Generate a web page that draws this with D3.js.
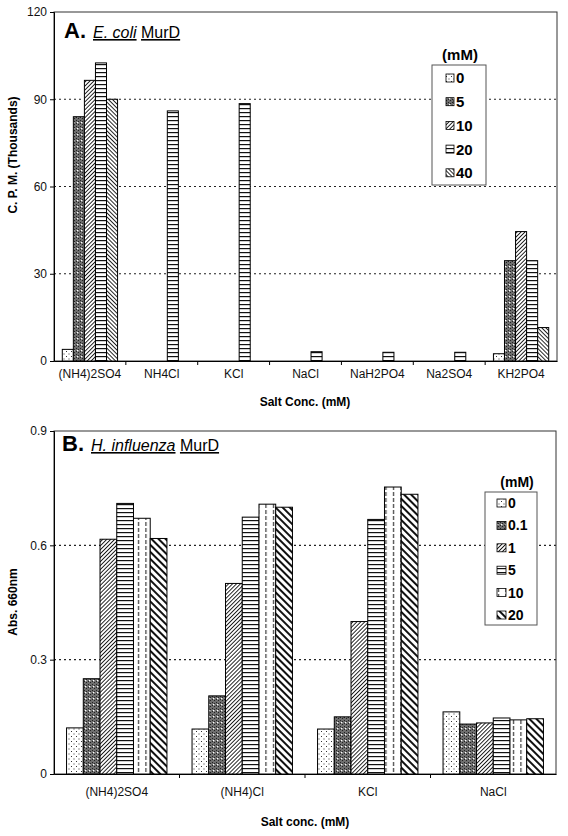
<!DOCTYPE html>
<html><head><meta charset="utf-8">
<script src="https://cdn.jsdelivr.net/npm/d3@7"></script>
<style>
html,body{margin:0;padding:0;background:#fff;}
svg{display:block;font-family:Arial,"Liberation Sans",sans-serif;}
</style></head>
<body><svg id="c" width="568" height="836"></svg>
<script>
// ---- Data ----
const catsA = ["(NH4)2SO4","NH4Cl","KCl","NaCl","NaH2PO4","Na2SO4","KH2PO4"];
const seriesA = ["0","5","10","20","40"];
const valsA_0  = [4, null, null, null, null, null, 2.5];
const valsA_5  = [84, null, null, null, null, null, 34.5];
const valsA_10 = [96.5, null, null, null, null, null, 44.5];
const valsA_20 = [102.5, 86, 88.5, 3.2, 3, 3, 34.5];
const valsA_40 = [90, null, null, null, null, null, 11.5];
const ticksA = [0, 30, 60, 90, 120];

const catsB = ["(NH4)2SO4","(NH4)Cl","KCl","NaCl"];
const seriesB = ["0","0.1","1","5","10","20"];
const valsB_0   = [0.121, 0.118, 0.118, 0.163];
const valsB_01  = [0.25, 0.205, 0.15, 0.131];
const valsB_1   = [0.616, 0.5, 0.4, 0.134];
const valsB_5   = [0.71, 0.674, 0.668, 0.147];
const valsB_10  = [0.671, 0.708, 0.753, 0.142];
const valsB_20  = [0.618, 0.70, 0.734, 0.145];
const ticksB = [0, 0.3, 0.6, 0.9];

const svg = d3.select("#c");
const defs = svg.append("defs");

// ---- Patterns ----
function pat(id, w, h, transform, draw) {
  const p = defs.append("pattern").attr("id", id).attr("patternUnits", "userSpaceOnUse")
    .attr("width", w).attr("height", h);
  if (transform) p.attr("patternTransform", transform);
  p.append("rect").attr("width", w).attr("height", h).attr("fill", "#fff");
  draw(p);
}
pat("pDots", 5, 5, null, p => {
  p.append("rect").attr("x", 1).attr("y", 1).attr("width", 1).attr("height", 1).attr("fill", "#333");
  p.append("rect").attr("x", 3.5).attr("y", 3.5).attr("width", 1).attr("height", 1).attr("fill", "#333");
});
pat("pDark", 4, 6, null, p => {
  p.select("rect").attr("fill", "#6e6e6e");
  p.append("rect").attr("x", 0).attr("y", 0).attr("width", 1).attr("height", 1).attr("fill", "#222");
  p.append("rect").attr("x", 2).attr("y", 1).attr("width", 1).attr("height", 1).attr("fill", "#222");
  p.append("rect").attr("x", 0).attr("y", 3).attr("width", 1).attr("height", 1).attr("fill", "#222");
  p.append("rect").attr("x", 2).attr("y", 4).attr("width", 1).attr("height", 1).attr("fill", "#222");
  p.append("rect").attr("x", 1).attr("y", 2).attr("width", 1.3).attr("height", 1.3).attr("fill", "#fff");
});
pat("pUp", 2.8, 10, "rotate(45)", p => {
  p.append("rect").attr("x", 0).attr("y", 0).attr("width", 0.9).attr("height", 10).attr("fill", "#111");
});
pat("pDown", 2.9, 10, "rotate(-45)", p => {
  p.append("rect").attr("x", 0).attr("y", 0).attr("width", 0.9).attr("height", 10).attr("fill", "#111");
});
pat("pH", 10, 4, null, p => {
  p.append("rect").attr("x", 0).attr("y", 0).attr("width", 10).attr("height", 1.2).attr("fill", "#111");
});
pat("pVDash", 7.5, 6, null, p => {
  p.append("rect").attr("x", 3).attr("y", 0).attr("width", 1).attr("height", 4).attr("fill", "#111");
});
pat("pDownThick", 5, 10, "rotate(-45)", p => {
  p.append("rect").attr("x", 0).attr("y", 0).attr("width", 2).attr("height", 10).attr("fill", "#111");
});

const fillsA = ["url(#pDots)", "url(#pDark)", "url(#pUp)", "url(#pH)", "url(#pDown)"];
const fillsB = ["url(#pDots)", "url(#pDark)", "url(#pUp)", "url(#pH)", "url(#pVDash)", "url(#pDownThick)"];

function panel(cfg) {
  const g = svg.append("g");
  const x0 = d3.scaleBand().domain(cfg.cats).range([cfg.left, cfg.right]).paddingInner(0).paddingOuter(0);
  const x1 = d3.scaleBand().domain(cfg.series).range([0, x0.bandwidth()]).paddingInner(0).paddingOuter(0.75);
  const y = d3.scaleLinear().domain([0, cfg.max]).range([cfg.bottom, cfg.top]);

  // gridlines
  g.append("g").selectAll("line").data(cfg.ticks.filter(t => t > 0 && t < cfg.max)).join("line")
    .attr("x1", cfg.left).attr("x2", cfg.right).attr("y1", d => y(d)).attr("y2", d => y(d))
    .attr("stroke", "#222").attr("stroke-width", 1.1).attr("stroke-dasharray", "2,3");

  // frame
  g.append("rect").attr("x", cfg.left).attr("y", cfg.top).attr("width", cfg.right - cfg.left)
    .attr("height", cfg.bottom - cfg.top).attr("fill", "none").attr("stroke", "#333").attr("stroke-width", 1);

  // bars
  cfg.series.forEach((s, si) => {
    const vals = cfg.values[si];
    g.append("g").selectAll("rect").data(cfg.cats.map((c, i) => ({c, v: vals[i]})).filter(d => d.v != null)).join("rect")
      .attr("x", d => x0(d.c) + x1(s)).attr("width", x1.bandwidth())
      .attr("y", d => y(d.v)).attr("height", d => y(0) - y(d.v))
      .attr("fill", cfg.fills[si]).attr("stroke", "#000").attr("stroke-width", 1);
  });

  // y axis
  const ya = d3.axisLeft(y).tickValues(cfg.ticks).tickSize(4).tickFormat(cfg.fmt);
  const yg = g.append("g").attr("transform", `translate(${cfg.left},0)`).call(ya);
  yg.select(".domain").attr("stroke", "#000");
  yg.selectAll("text").attr("font-size", 12).attr("fill", "#111").attr("x", -7);

  // x axis
  const xa = d3.axisBottom(x0).tickSize(0);
  const xg = g.append("g").attr("transform", `translate(0,${cfg.bottom})`).call(xa);
  xg.select(".domain").attr("stroke", "#000");
  xg.selectAll("text").attr("font-size", 12).attr("fill", "#111").attr("dy", 0).attr("y", cfg.labelDy);
  // boundary ticks
  g.append("g").selectAll("line").data(cfg.cats.slice(1)).join("line")
    .attr("x1", d => x0(d)).attr("x2", d => x0(d)).attr("y1", cfg.bottom).attr("y2", cfg.bottom + 4)
    .attr("stroke", "#000");

  // axis titles
  g.append("text").attr("x", cfg.xTitleX).attr("y", cfg.xTitleY).attr("text-anchor", "middle")
    .attr("font-size", 12).attr("font-weight", "bold").text(cfg.xTitle);
  g.append("text").attr("transform", `translate(${cfg.yTitleX},${cfg.yTitleY}) rotate(-90)`)
    .attr("text-anchor", "middle").attr("font-size", 12).attr("font-weight", "bold").text(cfg.yTitle);

  // panel title
  const t = g.append("text").attr("x", cfg.titleX).attr("y", cfg.titleY);
  t.append("tspan").attr("font-size", 22).attr("font-weight", "bold").text(cfg.letter);
  t.append("tspan").attr("dx", 7).attr("font-size", 16).attr("font-style", "italic")
    .attr("text-decoration", "underline").text(cfg.organism);
  t.append("tspan").text(" ").attr("font-size", 16);
  t.append("tspan").attr("font-size", 16).attr("text-decoration", "underline").text("MurD");

  // legend
  const L = cfg.legend;
  g.append("text").attr("x", L.titleX).attr("y", L.titleY).attr("text-anchor", "middle")
    .attr("font-size", L.fs).attr("font-weight", "bold").text("(mM)");
  g.append("rect").attr("x", L.x).attr("y", L.y).attr("width", L.w).attr("height", L.h)
    .attr("fill", "#fff").attr("stroke", "#555").attr("stroke-width", 1);
  cfg.series.forEach((s, si) => {
    const cy = L.y0 + si * L.step;
    g.append("rect").attr("x", L.sx).attr("y", cy - L.sh / 2).attr("width", L.sw).attr("height", L.sh)
      .attr("fill", cfg.fills[si]).attr("stroke", "#000").attr("stroke-width", 0.8);
    g.append("text").attr("x", L.tx).attr("y", cy).attr("dy", "0.36em")
      .attr("font-size", L.fs).attr("font-weight", "bold").text(s);
  });
}

panel({
  cats: catsA, series: seriesA, values: [valsA_0, valsA_5, valsA_10, valsA_20, valsA_40],
  fills: fillsA, left: 54, right: 557, top: 12, bottom: 361, max: 120, ticks: ticksA,
  fmt: d3.format("d"), labelDy: 17,
  xTitle: "Salt Conc. (mM)", xTitleX: 305, xTitleY: 406,
  yTitle: "C. P. M. (Thousands)", yTitleX: 17, yTitleY: 155,
  letter: "A.", organism: "E. coli", titleX: 64, titleY: 38,
  legend: {x: 432, y: 65, w: 54, h: 120, titleX: 460, titleY: 60, y0: 78, step: 23.7,
           sx: 446, sw: 8, sh: 8, tx: 456, fs: 15}
});

panel({
  cats: catsB, series: seriesB, values: [valsB_0, valsB_01, valsB_1, valsB_5, valsB_10, valsB_20],
  fills: fillsB, left: 54, right: 556, top: 431, bottom: 774, max: 0.9, ticks: ticksB,
  fmt: d => d === 0 ? "0" : d3.format(".1f")(d), labelDy: 22,
  xTitle: "Salt conc. (mM)", xTitleX: 305, xTitleY: 826,
  yTitle: "Abs. 660nm", yTitleX: 17, yTitleY: 602,
  letter: "B.", organism: "H. influenza", titleX: 62, titleY: 451,
  legend: {x: 485, y: 492, w: 52, h: 133, titleX: 517, titleY: 487, y0: 503, step: 22.4,
           sx: 497, sw: 9, sh: 8, tx: 508, fs: 14}
});
</script></body></html>
